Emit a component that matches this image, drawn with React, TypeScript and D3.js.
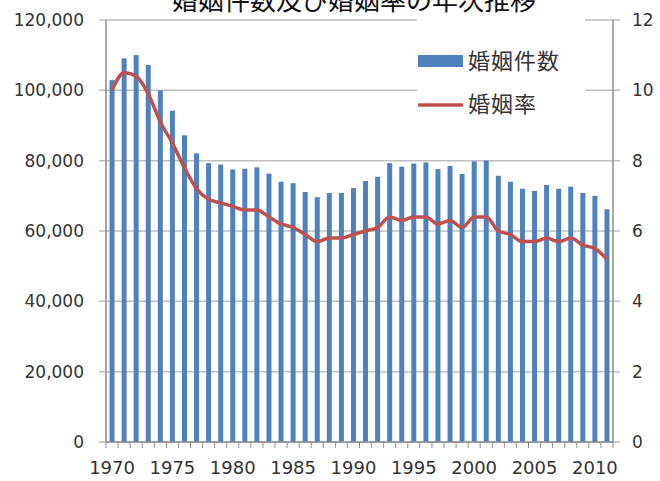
import React from 'react';
import * as d3 from 'd3';

// 婚姻件数及び婚姻率の年次推移
const years = [
  1970, 1971, 1972, 1973, 1974, 1975, 1976, 1977, 1978, 1979,
  1980, 1981, 1982, 1983, 1984, 1985, 1986, 1987, 1988, 1989,
  1990, 1991, 1992, 1993, 1994, 1995, 1996, 1997, 1998, 1999,
  2000, 2001, 2002, 2003, 2004, 2005, 2006, 2007, 2008, 2009,
  2010, 2011,
];
const marriages = [
  102900, 109100, 110000, 107200, 100000, 94200, 87200, 82100, 79300, 78900,
  77500, 77700, 78100, 76300, 74000, 73600, 71100, 69600, 70800, 70800,
  72200, 74200, 75400, 79300, 78300, 79200, 79500, 77600, 78500, 76200,
  79800, 80000, 75700, 74000, 72000, 71400, 73100, 72000, 72600, 70800,
  70000, 66200,
];
const rates = [
  10.0, 10.5, 10.4, 9.9, 9.1, 8.5, 7.8, 7.2, 6.9, 6.8,
  6.7, 6.6, 6.6, 6.4, 6.2, 6.1, 5.9, 5.7, 5.8, 5.8,
  5.9, 6.0, 6.1, 6.4, 6.3, 6.4, 6.4, 6.2, 6.3, 6.1,
  6.4, 6.4, 6.0, 5.9, 5.7, 5.7, 5.8, 5.7, 5.8, 5.6,
  5.5, 5.2,
];
const yearLabels = [1970, 1975, 1980, 1985, 1990, 1995, 2000, 2005, 2010];
const leftTicks = [0, 20000, 40000, 60000, 80000, 100000, 120000];
const rightTicks = [0, 2, 4, 6, 8, 10, 12];
const seriesNames = ['婚姻件数', '婚姻率'];
const title = '婚姻件数及び婚姻率の年次推移';

const W = 660;
const H = 481;
const left = 106;
const right = 613;
const top = 20;
const bottom = 442;

const blue = '#4f81bd';
const red = '#c0504d';
const grid = '#bfbfbf';
const axisCol = '#8c8c8c';
const textCol = '#333333';
const numFont = '"DejaVu Sans", sans-serif';
const jpFont = '"Noto Sans CJK JP", sans-serif';

export default function App() {
  const x = d3.scaleBand<number>().domain(years).range([left, right]).padding(0);
  const yL = d3.scaleLinear().domain([0, 120000]).range([bottom, top]);
  const yR = d3.scaleLinear().domain([0, 12]).range([bottom, top]);
  const fmt = d3.format(',');
  const barW = 5;

  const line = d3.line<number>()
    .x((d, i) => x(years[i])! + x.bandwidth() / 2)
    .y(d => yR(d))
    .curve(d3.curveMonotoneX);

  return (
    <svg width={W} height={H} style={{ position: 'absolute', left: 0, top: 0 }}>
      <rect width={W} height={H} fill="#fff" />
      <text x={354} y={10} textAnchor="middle" fontFamily={jpFont} fontSize={26} fill="#111">
        {title}
      </text>

      {/* gridlines + ticks */}
      {leftTicks.map(t => (
        <g key={t}>
          <line x1={left - 7} x2={right + 7} y1={yL(t)} y2={yL(t)} stroke={grid} strokeWidth={1.5} />
          <text x={84} y={yL(t)} dy="0.35em" textAnchor="end" fontFamily={numFont} fontSize={17} fill={textCol}>
            {fmt(t)}
          </text>
        </g>
      ))}
      {rightTicks.map(t => (
        <text key={t} x={632} y={yR(t)} dy="0.35em" fontFamily={numFont} fontSize={17} fill={textCol}>
          {t}
        </text>
      ))}

      {/* legend background */}
      <rect x={417} y={14} width={168} height={104} fill="#fff" />

      {/* bars */}
      {marriages.map((v, i) => (
        <rect
          key={years[i]}
          x={x(years[i])! + (x.bandwidth() - barW) / 2}
          y={yL(v)}
          width={barW}
          height={bottom - yL(v)}
          fill={blue}
        />
      ))}

      {/* axes */}
      <line x1={left} x2={left} y1={top} y2={bottom} stroke={axisCol} strokeWidth={1.5} />
      <line x1={right} x2={right} y1={top} y2={bottom} stroke={axisCol} strokeWidth={1.5} />
      <line x1={left} x2={right} y1={bottom} y2={bottom} stroke={axisCol} strokeWidth={1.5} />
      {years.concat([0]).map((yr, i) => {
        const xx = i < years.length ? x(yr)! : right;
        return <line key={i} x1={xx} x2={xx} y1={bottom} y2={bottom + 6} stroke={axisCol} strokeWidth={1} />;
      })}
      {yearLabels.map(yr => (
        <text key={yr} x={x(yr)! + x.bandwidth() / 2} y={468} dy="0.35em" textAnchor="middle"
          fontFamily={numFont} fontSize={18} fill={textCol}>
          {yr}
        </text>
      ))}

      {/* rate line */}
      <path d={line(rates) || ''} fill="none" stroke={red} strokeWidth={3.5} strokeLinejoin="round" />

      {/* legend */}
      <rect x={418} y={55} width={45} height={12} fill={blue} />
      <text x={468} y={61} dy="0.35em" fontFamily={jpFont} fontSize={22} letterSpacing={1} fill={textCol}>
        {seriesNames[0]}
      </text>
      <line x1={418} x2={463} y1={105} y2={105} stroke={red} strokeWidth={3.5} />
      <text x={468} y={104} dy="0.35em" fontFamily={jpFont} fontSize={22} letterSpacing={1} fill={textCol}>
        {seriesNames[1]}
      </text>
    </svg>
  );
}
